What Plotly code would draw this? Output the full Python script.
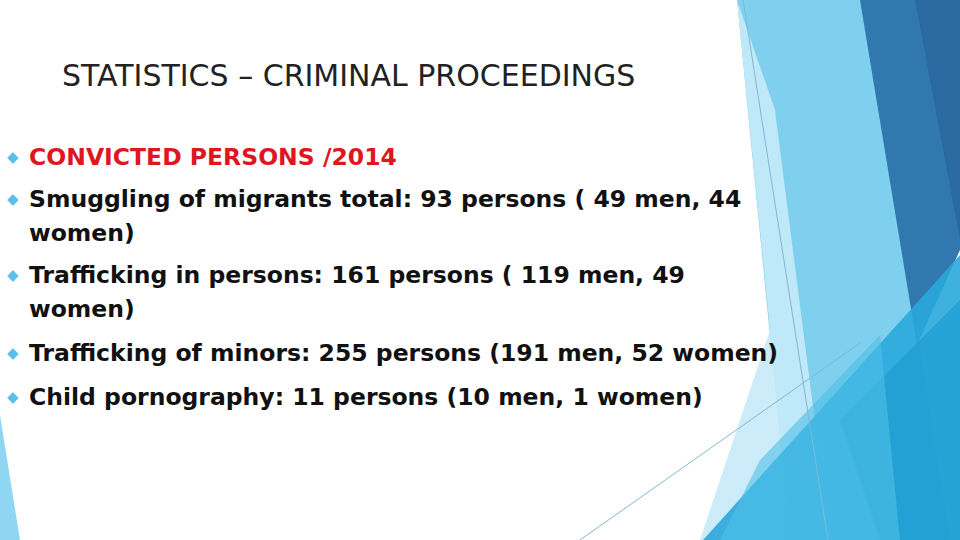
import plotly.graph_objects as go

title = "STATISTICS – CRIMINAL PROCEEDINGS"
heading = "CONVICTED PERSONS /2014"
categories = ["Smuggling of migrants total", "Trafficking in persons",
              "Trafficking of minors", "Child pornography"]
totals = [93, 161, 255, 11]
men = [49, 119, 191, 10]
women = [44, 49, 52, 1]

lines = [
    [f"{categories[0]}: {totals[0]} persons ( {men[0]} men, {women[0]}", "women)"],
    [f"{categories[1]}: {totals[1]} persons ( {men[1]} men, {women[1]}", "women)"],
    [f"{categories[2]}: {totals[2]} persons ({men[2]} men, {women[2]} women)"],
    [f"{categories[3]}: {totals[3]} persons ({men[3]} men, {women[3]} women)"],
]

fig = go.Figure()

def poly(pts, color, opacity=1.0):
    path = "M " + " L ".join(f"{x},{y}" for x, y in pts) + " Z"
    fig.add_shape(type="path", path=path, fillcolor=color, opacity=opacity,
                  line=dict(width=0), layer="below", xref="x", yref="y")

# decorative background
poly([(737, 0), (865, 0), (950, 540), (790, 540)], "#7fcfee")
poly([(737, 0), (775, 110), (830, 540), (700, 540), (770, 330)], "#c6eaf8", 0.9)
poly([(860, 0), (960, 0), (960, 250), (917, 345)], "#3078ad")
poly([(915, 0), (960, 0), (960, 240)], "#2a6aa0")
poly([(703, 540), (960, 255), (960, 540)], "#2aa8dc", 0.9)
poly([(840, 420), (960, 300), (960, 540), (880, 540)], "#1d9bd0", 0.7)
poly([(760, 460), (880, 335), (900, 540), (720, 540)], "#4fbfe8", 0.6)
poly([(0, 415), (20, 540), (0, 540)], "#8fd6f2")
fig.add_shape(type="line", x0=743, y0=0, x1=828, y1=540,
              line=dict(color="#7fb8d8", width=1))
fig.add_shape(type="line", x0=580, y0=540, x1=860, y1=343,
              line=dict(color="#7fb8d8", width=1))

body = dict(size=23.5, color="#111111", family="DejaVu Sans", weight="bold")
ann = []
ann.append(dict(x=60, y=75, text=title,
                font=dict(size=30, color="#222222", family="DejaVu Sans")))
ann.append(dict(x=5, y=157, text="◆", font=dict(size=15, color="#5bbfe9")))
ann.append(dict(x=27, y=157, text=heading, font=dict(body, color="#e0161e")))
y_rows = [[199, 233], [275, 309], [353], [397]]
for txt, ys in zip(lines, y_rows):
    ann.append(dict(x=5, y=ys[0], text="◆", font=dict(size=15, color="#5bbfe9")))
    for t, yy in zip(txt, ys):
        ann.append(dict(x=27, y=yy, text=t, font=dict(body)))
for a in ann:
    a.update(xref="x", yref="y", xanchor="left", yanchor="middle", showarrow=False)
    a["font"].setdefault("family", "DejaVu Sans")

fig.update_layout(
    width=960, height=540, margin=dict(l=0, r=0, t=0, b=0),
    plot_bgcolor="white", paper_bgcolor="white", showlegend=False,
    xaxis=dict(range=[0, 960], visible=False, fixedrange=True),
    yaxis=dict(range=[540, 0], visible=False, fixedrange=True),
    annotations=ann,
)
fig.write_html("out.html", config={"displayModeBar": False},
               post_script="document.body.style.margin='0';")
